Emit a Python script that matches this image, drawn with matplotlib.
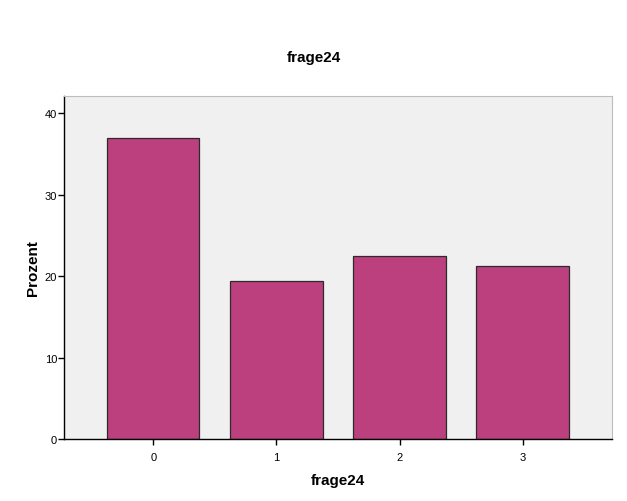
import numpy as np
import matplotlib
matplotlib.use('Agg')
import matplotlib.pyplot as plt

plt.rcParams['font.family'] = ['Liberation Sans', 'DejaVu Sans']

categories = ['0', '1', '2', '3']
prozent = [36.9, 19.4, 22.4, 21.2]

fig = plt.figure(figsize=(6.27, 5.02), dpi=100)
ax = fig.add_axes([0.102, 0.1235, 0.874, 0.6835])
ax.set_facecolor('#F0F0F0')

x = np.arange(len(categories))
ax.bar(x, prozent, width=0.75, color='#BC3F7E', edgecolor='#2B2B2B', linewidth=0.9, zorder=2)

ax.set_xlim(-0.725, 3.725)
ax.set_ylim(0, 42.1)
ax.set_xticks(x)
ax.set_xticklabels(categories, fontsize=8)
ax.set_yticks([0, 10, 20, 30, 40])
ax.tick_params(axis='y', labelsize=8, length=4, width=1, pad=1)
ax.tick_params(axis='x', length=4, width=1, pad=5)

for s in ['top', 'right']:
    ax.spines[s].set_color('#BDBDBD')
    ax.spines[s].set_linewidth(0.8)
for s in ['left', 'bottom']:
    ax.spines[s].set_color('black')
    ax.spines[s].set_linewidth(1.0)

ax.set_xlabel('frage24', fontsize=11, fontweight='bold', labelpad=8)
ax.set_ylabel('Prozent', fontsize=11, fontweight='bold', labelpad=3)
fig.text(0.5, 0.884, 'frage24', ha='center', va='center', fontsize=11, fontweight='bold')

fig.savefig('out.png', dpi=100)
